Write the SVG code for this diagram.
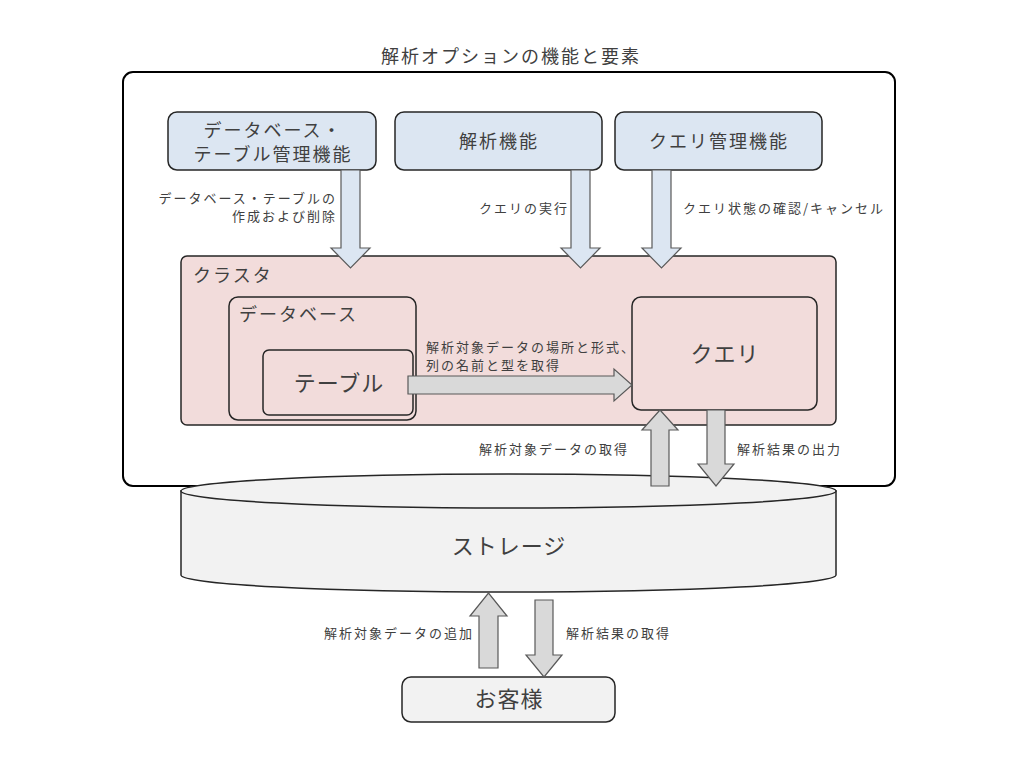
<svg xmlns="http://www.w3.org/2000/svg" width="1024" height="768" viewBox="0 0 1024 768">
<style>
text{font-family:"Noto Sans CJK JP","Noto Sans",sans-serif;fill:#404040}
.t13{font-size:13px;letter-spacing:2px}
.t17{font-size:18px;letter-spacing:2px}
.t22{font-size:22px;letter-spacing:1px}
.box{stroke:#262626;stroke-width:1.5}
.blue{fill:#dce6f2}
.barrow{fill:#dce6f2;stroke:#595959;stroke-width:1.2}
.garrow{fill:#d9d9d9;stroke:#595959;stroke-width:1.2}
</style>
<rect width="1024" height="768" fill="#fff"/>
<text class="t17" x="511" y="63" text-anchor="middle">解析オプションの機能と要素</text>
<g id="frame"><rect x="123" y="72" width="772" height="414" rx="10" fill="#fff" stroke="#000" stroke-width="2"/></g>
<g id="db-mgmt"><rect class="box blue" x="168" y="112" width="208" height="58" rx="9"/>
<text class="t17" x="273" y="137" text-anchor="middle">データベース・</text>
<text class="t17" x="273" y="161" text-anchor="middle">テーブル管理機能</text></g>
<g id="analysis"><rect class="box blue" x="395" y="112" width="207" height="58" rx="9"/>
<text class="t17" x="499" y="148" text-anchor="middle">解析機能</text></g>
<g id="query-mgmt"><rect class="box blue" x="615" y="112" width="207" height="58" rx="9"/>
<text class="t17" x="719" y="148" text-anchor="middle">クエリ管理機能</text></g>
<g id="cluster"><rect class="box" x="181" y="256" width="655" height="169" rx="6" fill="#f2dcdb"/>
<text class="t17" x="193" y="282">クラスタ</text></g>
<g id="database"><rect class="box" x="229" y="297" width="187" height="123" rx="9" fill="#f2dcdb"/>
<text class="t17" x="239" y="321">データベース</text></g>
<g id="table"><rect class="box" x="263" y="350" width="150" height="65" rx="6" fill="#f2dcdb"/>
<text class="t22" x="339" y="391" text-anchor="middle">テーブル</text></g>
<g id="query"><rect class="box" x="632" y="297" width="185" height="113" rx="9" fill="#f2dcdb"/>
<text class="t22" x="725" y="362" text-anchor="middle">クエリ</text></g>
<g id="storage">
<path d="M181,491 L181,575 A327.5,17 0 0 0 836,575 L836,491 Z" fill="#f2f2f2" stroke="#262626" stroke-width="1.5"/>
<ellipse cx="508.5" cy="491" rx="327.5" ry="17" fill="#f2f2f2" stroke="#262626" stroke-width="1.5"/>
<text class="t22" x="509" y="554" text-anchor="middle">ストレージ</text></g>
<g id="customer"><rect class="box" x="402" y="677" width="213" height="45" rx="9" fill="#f2f2f2"/>
<text class="t22" x="509" y="707" text-anchor="middle">お客様</text></g>
<g id="connectors">
<polygon class="barrow" points="341,170 360,170 360,248 370,248 350.5,268 331,248 341,248"/>
<polygon class="barrow" points="571,170 590,170 590,248 600,248 580.5,268 561,248 571,248"/>
<polygon class="barrow" points="652,170 671,170 671,248 681,248 661.5,268 642,248 652,248"/>
<polygon class="garrow" points="408,376 614,376 614,369 632,385 614,401 614,394 408,394"/>
<polygon class="garrow" points="651,486 651,430 642,430 660,410 678,430 669,430 669,486"/>
<polygon class="garrow" points="707,410 725,410 725,464 734,464 716,486 698,464 707,464"/>
<polygon class="garrow" points="479,668 479,616 470,616 488.5,593 507,616 498,616 498,668"/>
<polygon class="garrow" points="535,600 553,600 553,655 562,655 544,677 526,655 535,655"/>
<text class="t13" x="337" y="203" text-anchor="end">データベース・テーブルの</text>
<text class="t13" x="337" y="221" text-anchor="end">作成および削除</text>
<text class="t13" x="569" y="213" text-anchor="end">クエリの実行</text>
<text class="t13" x="683" y="213">クエリ状態の確認/キャンセル</text>
<text class="t13" x="426" y="352">解析対象データの場所と形式、</text>
<text class="t13" x="426" y="370">列の名前と型を取得</text>
<text class="t13" x="629" y="454" text-anchor="end">解析対象データの取得</text>
<text class="t13" x="737" y="454">解析結果の出力</text>
<text class="t13" x="474" y="638" text-anchor="end">解析対象データの追加</text>
<text class="t13" x="566" y="638">解析結果の取得</text>
</g>
</svg>
